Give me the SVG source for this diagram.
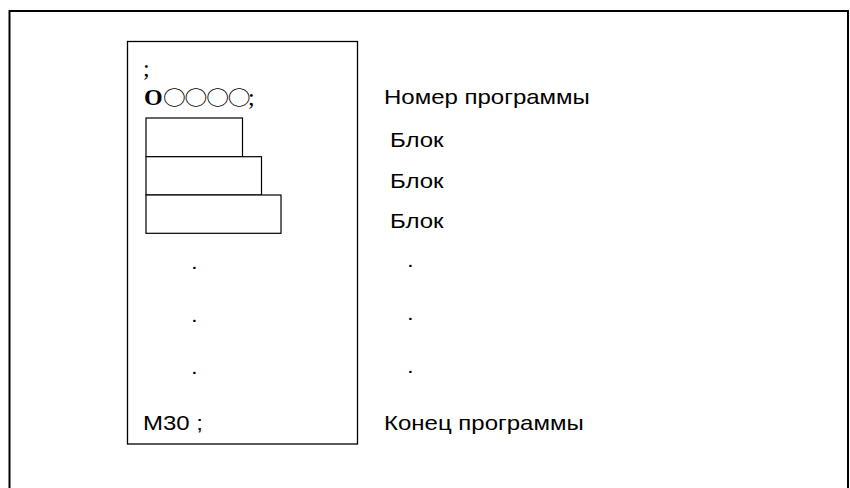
<svg xmlns="http://www.w3.org/2000/svg" width="850" height="488" viewBox="0 0 850 488">
<style>
.frame{fill:none;stroke:#000;stroke-width:2}
.box{fill:#fff;stroke:#000;stroke-width:1.3}
.blk{fill:#fff;stroke:#000;stroke-width:1.2}
.sans{font-family:"Liberation Sans",Arial,sans-serif;font-size:20px;fill:#000}
.serif{font-family:"Liberation Serif","Times New Roman",serif;font-size:24px;fill:#000}
.circ{font-family:"Noto Sans CJK JP",sans-serif;font-size:19px;letter-spacing:-1px;fill:#000}
</style>
<rect width="850" height="488" fill="#fff"/>
<path class="frame" d="M9.5,490 V11 H848 V490"/>
<g id="program">
<rect class="box" x="127.5" y="41.5" width="230" height="402.5"/>
<text class="serif" x="143" y="76">;</text>
<g id="program-number">
<text class="serif" x="144" y="105" font-weight="bold">O</text>
<text class="circ" transform="translate(163,105) scale(1.2,1)">○○○○</text>
<text class="serif" x="248" y="105">;</text>
</g>
<g id="block1"><rect class="blk" x="146" y="118" width="96.5" height="38.7"/></g>
<g id="block2"><rect class="blk" x="146" y="156.7" width="115.5" height="38.3"/></g>
<g id="block3"><rect class="blk" x="146" y="195" width="135" height="38.3"/></g>
<text class="sans" transform="translate(191,268.5) scale(1.2,1)">.</text>
<text class="sans" transform="translate(191,321.5) scale(1.2,1)">.</text>
<text class="sans" transform="translate(191,373.5) scale(1.2,1)">.</text>
<text class="sans" transform="translate(143,430) scale(1.2,1)">M30 ;</text>
</g>
<g id="labels">
<text class="sans" transform="translate(384,104) scale(1.2,1)">Номер программы</text>
<text class="sans" transform="translate(390,147) scale(1.2,1)">Блок</text>
<text class="sans" transform="translate(390,187.5) scale(1.2,1)">Блок</text>
<text class="sans" transform="translate(390,227.5) scale(1.2,1)">Блок</text>
<text class="sans" transform="translate(407,266.5) scale(1.2,1)">.</text>
<text class="sans" transform="translate(407,319.5) scale(1.2,1)">.</text>
<text class="sans" transform="translate(407,372.5) scale(1.2,1)">.</text>
<text class="sans" transform="translate(384,430) scale(1.2,1)">Конец программы</text>
</g>
<g id="connectors"/>
</svg>
